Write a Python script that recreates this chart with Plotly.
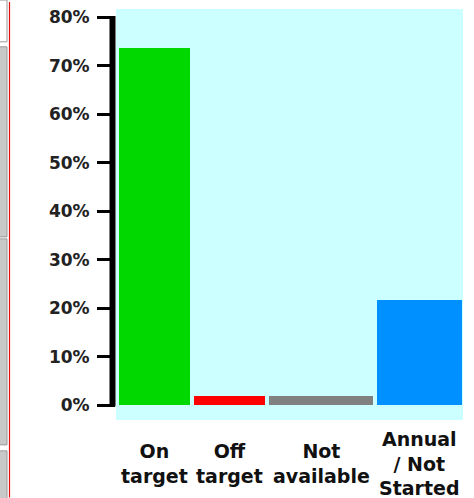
import plotly.graph_objects as go

# ---- data ----
categories = ["On<br>target", "Off<br>target", "Not<br>available", "Annual<br>/ Not<br>Started"]
values = [0.736, 0.019, 0.019, 0.217]
colors = ["#00D800", "#FF0000", "#808080", "#0090FF"]
y_tick_vals = [0, 0.1, 0.2, 0.3, 0.4, 0.5, 0.6, 0.7, 0.8]
y_tick_text = ["0%", "10%", "20%", "30%", "40%", "50%", "60%", "70%", "80%"]

# ---- layout geometry (pixel-like units on x axis) ----
W, H = 474, 498
PL, PR, PT, PB = 116, 463, 7, 420
pw, ph = PR - PL, PB - PT
slot_widths = [71, 71, 104, 85]
gap = 4
start = 3
centers = []
pos = start
for w in slot_widths:
    centers.append(pos + w / 2)
    pos += w + gap

def px_x(p):
    return (p - PL) / pw

def px_y(p):
    return (PB - p) / ph

y0_px, y80_px = 405.3, 15.5
per = (y0_px - y80_px) / 0.8
yr = [-(PB - y0_px) / per, 0.8 + (y80_px - PT) / per]

fig = go.Figure()
fig.add_trace(go.Bar(
    x=centers, y=values, width=slot_widths,
    marker=dict(color=colors, line=dict(width=0)),
    hoverinfo="skip",
))

shapes = []
# y axis line from 0% to 80%
shapes.append(dict(type="line", xref="paper", yref="y",
                   x0=px_x(112.5), x1=px_x(112.5), y0=-0.002, y1=0.8 + 1.5 / per,
                   line=dict(color="black", width=6)))
# page-edge decorations on the left
shapes.append(dict(type="rect", xref="paper", yref="paper",
                   x0=px_x(-2), x1=px_x(7), y0=px_y(-2), y1=px_y(40),
                   fillcolor="white", line=dict(color="#9a9a9a", width=1)))
shapes.append(dict(type="rect", xref="paper", yref="paper",
                   x0=px_x(-2), x1=px_x(7), y0=px_y(45), y1=px_y(236),
                   fillcolor="#C8C8C8", line=dict(color="#9a9a9a", width=1)))
shapes.append(dict(type="rect", xref="paper", yref="paper",
                   x0=px_x(-2), x1=px_x(7), y0=px_y(238), y1=px_y(445),
                   fillcolor="#C8C8C8", line=dict(color="#9a9a9a", width=1)))
shapes.append(dict(type="rect", xref="paper", yref="paper",
                   x0=px_x(-2), x1=px_x(7), y0=px_y(451), y1=px_y(500),
                   fillcolor="#C8C8C8", line=dict(color="#9a9a9a", width=1)))
shapes.append(dict(type="line", xref="paper", yref="paper",
                   x0=px_x(9.5), x1=px_x(9.5), y0=px_y(0), y1=px_y(498),
                   line=dict(color="#E01010", width=1.2)))

annotations = []
for c, lab in zip(centers, categories):
    annotations.append(dict(
        x=c, xref="x", y=px_y(464), yref="paper",
        text=lab, showarrow=False, xanchor="center", yanchor="middle",
        font=dict(family="DejaVu Sans", size=19, color="#111111", weight="bold"),
        align="center",
    ))

fig.update_layout(
    width=W, height=H,
    margin=dict(l=PL, r=W - PR, t=PT, b=H - PB, pad=0),
    paper_bgcolor="white",
    plot_bgcolor="#CCFFFF",
    showlegend=False,
    bargap=0,
    shapes=shapes,
    annotations=annotations,
    xaxis=dict(range=[0, pw], showticklabels=False, showgrid=False,
               zeroline=False, showline=False, ticks="", fixedrange=True),
    yaxis=dict(range=yr, tickvals=y_tick_vals, ticktext=y_tick_text,
               showgrid=False, zeroline=False, showline=False,
               ticks="outside", ticklen=18, tickwidth=3, tickcolor="black",
               ticklabelstandoff=4,
               tickfont=dict(family="DejaVu Sans", size=17, color="#222222", weight="bold"),
               fixedrange=True),
)

fig.write_html(
    "out.html",
    config={"displayModeBar": False},
    post_script="document.body.style.margin='0';document.body.style.overflow='hidden';",
)
